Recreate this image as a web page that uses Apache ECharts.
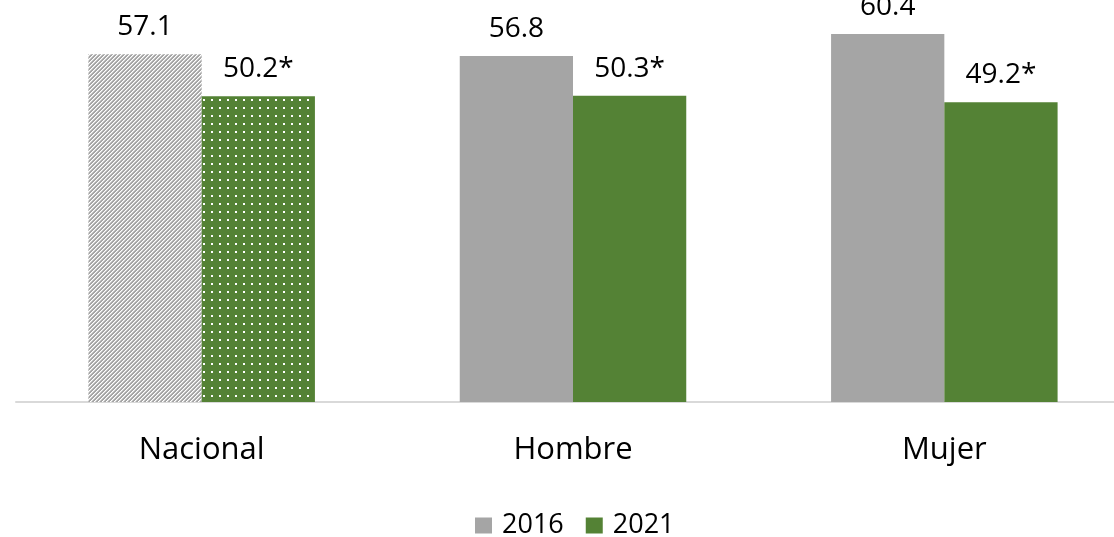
<!DOCTYPE html>
<html>
<head>
<meta charset="utf-8">
<script src="https://cdn.jsdelivr.net/npm/echarts@6/dist/echarts.min.js"></script>
<style>
	html, body { margin: 0; padding: 0; background: #fff; }
	#container { width: 1114px; height: 537px; }
</style>
</head>
<body>
<div id="container"></div>
<script>
var categories = ['Nacional', 'Hombre', 'Mujer'];
var values2016 = [57.1, 56.8, 60.4];
var values2021 = [50.2, 50.3, 49.2];
var marked2021 = [true, true, true]; // asterisco = diferencia significativa
var seriesNames = ['2016', '2021'];

var gray = '#A5A5A5';
var green = '#548235';

// patrones de la barra "Nacional"
function stripePattern() {
	var c = document.createElement('canvas');
	c.width = 4; c.height = 4;
	var ctx = c.getContext('2d');
	ctx.fillStyle = gray;
	ctx.fillRect(0, 0, 4, 4);
	for (var i = 0; i < 4; i++) {
		ctx.fillStyle = '#ffffff';
		ctx.fillRect(3 - i, i, 1, 1);
		ctx.fillStyle = '#d4d4d4';
		ctx.fillRect((4 - i) % 4, i, 1, 1);
	}
	return { image: c, repeat: 'repeat' };
}
function dotPattern() {
	var c = document.createElement('canvas');
	c.width = 8; c.height = 8;
	var ctx = c.getContext('2d');
	ctx.fillStyle = green;
	ctx.fillRect(0, 0, 8, 8);
	ctx.fillStyle = '#ffffff';
	ctx.fillRect(3, 3, 2, 2);
	return { image: c, repeat: 'repeat' };
}

var data2016 = values2016.map(function (v, i) {
	return i === 0 ? { value: v, itemStyle: { color: stripePattern() } } : v;
});
var data2021 = values2021.map(function (v, i) {
	return i === 0 ? { value: v, itemStyle: { color: dotPattern() } } : v;
});

var font = '"Open Sans", "DejaVu Sans", sans-serif';

var myChart = echarts.init(document.getElementById('container'), null, { renderer: 'canvas' });
var option = {
	animation: false,
	backgroundColor: '#ffffff',
	legend: {
		data: [
			{ name: seriesNames[0], itemStyle: { color: gray } },
			{ name: seriesNames[1], itemStyle: { color: green } }
		],
		left: 470,
		top: 507,
		icon: 'rect',
		itemWidth: 17,
		itemHeight: 16,
		itemGap: 22,
		textStyle: { fontFamily: font, fontSize: 27, color: '#000', padding: [0, 0, 0, 5] }
	},
	grid: {
		left: 16,
		right: -16,
		top: 0,
		bottom: 135,
		containLabel: false,
		outerBoundsMode: 'none'
	},
	xAxis: {
		type: 'category',
		data: categories,
		axisTick: { show: false },
		axisLine: { lineStyle: { color: '#D9D9D9', width: 2 } },
		axisLabel: {
			fontFamily: font,
			fontSize: 31,
			color: '#000',
			margin: 33
		}
	},
	yAxis: {
		type: 'value',
		min: 0,
		max: 66,
		show: false,
		splitLine: { show: false }
	},
	series: [{
		name: seriesNames[0],
		type: 'bar',
		data: data2016,
		color: gray,
		barGap: '0%',
		barCategoryGap: '39%',
		label: {
			show: true,
			position: 'top',
			distance: 13,
			fontFamily: font,
			fontSize: 28,
			color: '#000',
			formatter: function (p) { return p.value.toFixed(1); }
		}
	}, {
		name: seriesNames[1],
		type: 'bar',
		data: data2021,
		color: green,
		barGap: '0%',
		barCategoryGap: '39%',
		label: {
			show: true,
			position: 'top',
			distance: 13,
			fontFamily: font,
			fontSize: 28,
			color: '#000',
			formatter: function (p) {
				return p.value.toFixed(1) + (marked2021[p.dataIndex] ? '*' : '');
			}
		}
	}]
};
myChart.setOption(option, true);
</script>
</body>
</html>
